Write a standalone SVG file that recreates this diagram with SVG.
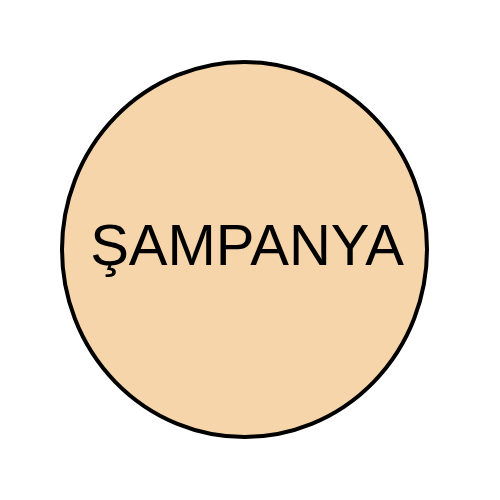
<svg xmlns="http://www.w3.org/2000/svg" width="500" height="500" viewBox="0 0 500 500">
<style>
.node-shape{fill:#F5D5A9;stroke:#000;stroke-width:4}
.label{font-family:"Liberation Sans",Arial,sans-serif;font-size:58px;fill:#000;text-anchor:middle}
</style>
<rect width="500" height="500" fill="#fff"/>
<g id="connectors"></g>
<g id="node-sampanya">
<ellipse class="node-shape" cx="244.5" cy="249.5" rx="182.5" ry="187.5"/>
<text class="label" x="247" y="265">ŞAMPANYA</text>
</g>
</svg>
